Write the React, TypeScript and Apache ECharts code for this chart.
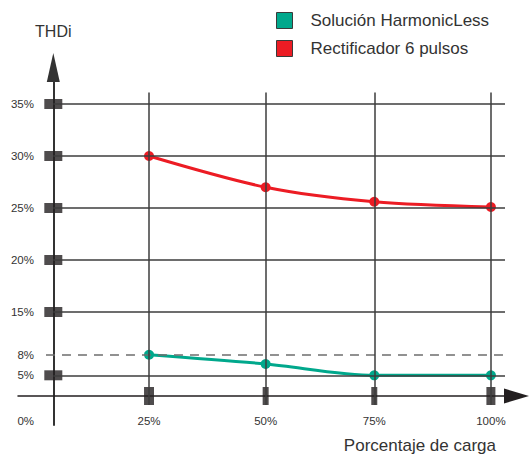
import React, { useEffect, useRef } from 'react';
import * as echarts from 'echarts';

// ---- data ----
const loadTicks = [0, 25, 50, 75, 100];
const loadLabels = ['0%', '25%', '50%', '75%', '100%'];
const thdTicks = [0, 5, 8, 15, 20, 25, 30, 35];
const thdLabels = ['0%', '5%', '8%', '15%', '20%', '25%', '30%', '35%'];
const loads = [25, 50, 75, 100];
const harmonicLess = [8, 6.65, 5.0, 5.0];
const rectifier6 = [30, 27.0, 25.6, 25.1];
const thdMarked = [5, 15, 20, 25, 30, 35];
const limitThd = 8;
const seriesNames = ['Solución HarmonicLess', 'Rectificador 6 pulsos'];

// ---- layout (non-linear axis slot positions of the ticks) ----
const X_SLOTS = [0, 0.875, 1.941, 2.934, 4];
const Y_SLOTS = [0, 0.398, 0.794, 1.615, 2.615, 3.615, 4.615, 5.615];
const X_MIN = -0.3227, X_MAX = 4.234;
const Y_MIN = -0.5577, Y_MAX = 6.317;
const X_GRID_END = 4.129;
const X_DASH_START = -0.067;
const Y_VLINE_BOTTOM = -0.173;
const Y_VLINE_TOP = 5.837;
const X_RECT_SIZES = [[10, 18], [6, 18], [6, 18], [9, 18]];

const FONT = "'Liberation Sans Narrow', 'Arial Narrow', 'Liberation Sans', sans-serif";
const GREEN = '#00a88c';
const RED = '#ec1c24';
const INK = '#231f20';
const GRIDC = '#3c3c3c';

function interp(v: number, ticks: number[], slots: number[]): number {
  for (let i = 0; i < ticks.length - 1; i++) {
    if (v <= ticks[i + 1] || i === ticks.length - 2) {
      const t = (v - ticks[i]) / (ticks[i + 1] - ticks[i]);
      return slots[i] + t * (slots[i + 1] - slots[i]);
    }
  }
  return 0;
}
const toX = (v: number) => interp(v, loadTicks, X_SLOTS);
const toY = (v: number) => interp(v, thdTicks, Y_SLOTS);

function labelFor(v: number, slots: number[], labels: string[]) {
  for (let i = 0; i < slots.length; i++) if (Math.abs(slots[i] - v) < 1e-6) return labels[i];
  return '';
}

export default function App() {
  const ref = useRef<HTMLDivElement>(null);
  useEffect(() => {
    if (!ref.current) return;
    const chart = echarts.init(ref.current, null, { renderer: 'svg' });

    const hLines: any[] = thdTicks
      .filter((t) => t > 0 && t !== limitThd)
      .map((t) => [
        { coord: [0, toY(t)], lineStyle: { color: GRIDC, width: 1.5, type: 'solid' } },
        { coord: [X_GRID_END, toY(t)] },
      ]);
    hLines.push([
      { coord: [X_DASH_START, toY(limitThd)], lineStyle: { color: '#6e6e6e', width: 1.5, type: [9, 7] } },
      { coord: [X_GRID_END, toY(limitThd)] },
    ]);
    const vLines: any[] = loads.map((l) => [
      { coord: [toX(l), Y_VLINE_BOTTOM], lineStyle: { color: GRIDC, width: 1.5, type: 'solid' } },
      { coord: [toX(l), Y_VLINE_TOP] },
    ]);

    const option: any = {
      animation: false,
      grid: { left: 18, right: 14.5, top: 67.5, bottom: 30, containLabel: false, outerBoundsMode: 'none' },
      legend: {
        data: seriesNames,
        orient: 'vertical',
        left: 271,
        top: 7,
        itemWidth: 16,
        itemHeight: 16,
        itemGap: 11,
        icon: 'rect',
        itemStyle: { borderColor: '#3a3a3a', borderWidth: 1 },
        textStyle: { fontSize: 17, color: '#333', fontFamily: FONT, padding: [0, 0, 0, 13] },
        selectedMode: false,
      },
      xAxis: {
        type: 'value',
        min: X_MIN,
        max: X_MAX,
        axisLine: {
          show: true,
          onZero: true,
          symbol: ['none', 'triangle'],
          symbolSize: [15, 25],
          lineStyle: { color: INK, width: 1.5 },
        },
        axisTick: { show: false },
        splitLine: { show: false },
        axisLabel: {
          customValues: X_SLOTS.slice(1),
          formatter: (v: number) => labelFor(v, X_SLOTS, loadLabels),
          margin: -10,
          fontSize: 11.5,
          color: '#333',
          fontFamily: FONT,
        },
      },
      yAxis: {
        type: 'value',
        min: Y_MIN,
        max: Y_MAX,
        name: 'THDi',
        nameLocation: 'end',
        nameGap: 28,
        nameTextStyle: { fontSize: 16, color: '#333', fontFamily: FONT, align: 'center' },
        axisLine: {
          show: true,
          onZero: true,
          symbol: ['none', 'triangle'],
          symbolSize: [13, 29],
          lineStyle: { color: '#333', width: 2 },
        },
        axisTick: { show: false },
        splitLine: { show: false },
        axisLabel: {
          customValues: Y_SLOTS.slice(1),
          formatter: (v: number) => labelFor(v, Y_SLOTS, thdLabels),
          margin: -16,
          fontSize: 11.5,
          color: '#333',
          fontFamily: FONT,
        },
      },
      graphic: [
        {
          type: 'text',
          x: 34,
          y: 421,
          style: { text: '0%', align: 'right', verticalAlign: 'middle', fontSize: 11.5, fill: '#333', fontFamily: FONT },
        },
        {
          type: 'text',
          right: 35,
          top: 437,
          style: { text: 'Porcentaje de carga', fontSize: 17, fill: '#333', fontFamily: FONT },
        },
      ],
      series: [
        {
          name: 'grid',
          type: 'line',
          data: [],
          z: 1,
          silent: true,
          markLine: {
            silent: true,
            symbol: ['none', 'none'],
            label: { show: false },
            emphasis: { disabled: true },
            data: [...hLines, ...vLines],
          },
        },
        {
          name: 'ticks',
          type: 'scatter',
          z: 3,
          silent: true,
          symbol: 'rect',
          itemStyle: { color: INK },
          data: [
            ...thdMarked.map((t) => ({ value: [0, toY(t)], symbolSize: [18, 10] })),
            ...loads.map((l, i) => ({ value: [toX(l), 0], symbolSize: X_RECT_SIZES[i] })),
          ],
        },
        {
          name: seriesNames[0],
          type: 'line',
          z: 4,
          smooth: 0.3,
          symbol: 'circle',
          symbolSize: 10,
          color: GREEN,
          lineStyle: { color: GREEN, width: 3 },
          itemStyle: { color: GREEN },
          data: harmonicLess.map((v, i) => [toX(loads[i]), toY(v)]),
        },
        {
          name: seriesNames[1],
          type: 'line',
          z: 4,
          smooth: 0.3,
          symbol: 'circle',
          symbolSize: 10,
          color: RED,
          lineStyle: { color: RED, width: 3 },
          itemStyle: { color: RED },
          data: rectifier6.map((v, i) => [toX(loads[i]), toY(v)]),
        },
      ],
    };
    chart.setOption(option);
    return () => chart.dispose();
  }, []);
  return (
    <div
      ref={ref}
      style={{ position: 'fixed', left: 0, top: 0, width: 531, height: 455, background: '#fff' }}
    />
  );
}
